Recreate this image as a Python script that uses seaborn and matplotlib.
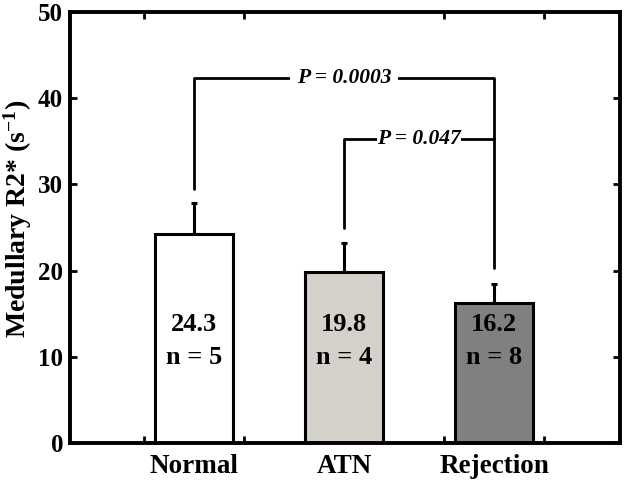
import matplotlib
matplotlib.use("Agg")
import matplotlib.pyplot as plt
import seaborn as sns
import pandas as pd

# data
groups = ["Normal", "ATN", "Rejection"]
means = [24.3, 19.8, 16.2]
errors = [3.5, 3.4, 2.3]
n_counts = [5, 4, 8]
bar_colors = ["#ffffff", "#d5d1ca", "#808080"]
p_labels = ["P = 0.0003", "P = 0.047"]

df = pd.DataFrame({"group": groups, "r2": means})

sns.set_style("ticks")
plt.rcParams["font.family"] = ["Liberation Serif", "DejaVu Serif"]
plt.rcParams["font.weight"] = "bold"
plt.rcParams["mathtext.fontset"] = "custom"
plt.rcParams["mathtext.rm"] = "Liberation Serif:bold"
plt.rcParams["mathtext.bf"] = "Liberation Serif:bold"
plt.rcParams["mathtext.default"] = "bf"
for key in ["text.color", "axes.labelcolor", "xtick.color", "ytick.color", "axes.edgecolor"]:
    plt.rcParams[key] = "black"

fig = plt.figure(figsize=(6.25, 4.82), dpi=100)
ax = fig.add_axes([0.112, 0.081, 0.88, 0.894])

sns.barplot(data=df, x="group", y="r2", hue="group", palette=bar_colors,
            edgecolor="black", linewidth=2.2, width=0.52, legend=False, ax=ax)

# one-sided error bars (upward only)
ax.errorbar(range(len(groups)), means, yerr=[[0] * 3, errors], fmt="none",
            ecolor="black", elinewidth=2.2, capsize=2, capthick=2.2, zorder=3)

# value and n labels inside bars
for i, (m, n) in enumerate(zip(means, n_counts)):
    ax.text(i, 13.7, f"{m}", ha="center", va="center", fontsize=19, fontweight="bold")
    ax.text(i, 9.9, f"n = {n}", ha="center", va="center", fontsize=19, fontweight="bold")

# significance brackets
lw = 2.0
ax.plot([0, 0, 2, 2], [29.5, 42.3, 42.3, 20.3], color="black", lw=lw, zorder=2)
ax.plot([1, 1, 2], [24.9, 35.3, 35.3], color="black", lw=lw, zorder=2)
ax.text(1.0, 42.3, p_labels[0], ha="center", va="center", fontsize=15.5,
        fontweight="bold", style="italic",
        bbox=dict(facecolor="white", edgecolor="none", pad=5))
ax.text(1.5, 35.3, p_labels[1], ha="center", va="center", fontsize=15.5,
        fontweight="bold", style="italic",
        bbox=dict(facecolor="white", edgecolor="none", pad=0.3))

ax.set_xlim(-0.83, 2.84)
ax.set_ylim(0, 50)
ax.set_yticks([0, 10, 20, 30, 40, 50])
ax.set_xticks([0, 1, 2])
ax.set_xticklabels(groups)
ax.set_xticks([-0.333, 0.333, 1.667, 2.333], minor=True)
ax.tick_params(axis="x", which="major", length=0, labelsize=19.5, pad=8)
ax.tick_params(axis="x", which="minor", direction="in", length=5, width=2,
               top=True, bottom=True)
ax.tick_params(axis="y", direction="in", length=5, width=2, labelsize=18,
               left=True, right=True, pad=5)
for lab in ax.get_xticklabels() + ax.get_yticklabels():
    lab.set_fontweight("bold")

ax.set_xlabel("")
ax.set_ylabel("Medullary R2* (s$^{-1}$)", fontsize=20, fontweight="bold")
ax.yaxis.set_label_coords(-0.066, 0.52)
for s in ax.spines.values():
    s.set_linewidth(2.8)
    s.set_visible(True)

fig.savefig("out.png", dpi=100)
